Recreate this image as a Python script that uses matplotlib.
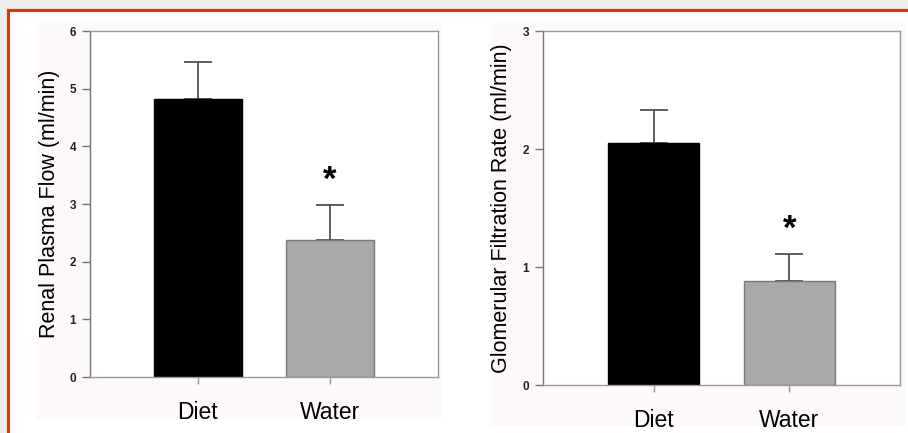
import matplotlib.pyplot as plt
from matplotlib.patches import Rectangle
from matplotlib.lines import Line2D

plt.rcParams['font.family'] = ['Liberation Sans', 'DejaVu Sans']

# data
groups = ['Diet', 'Water']
rpf_mean = [4.82, 2.37]
rpf_err = [0.65, 0.61]
gfr_mean = [2.05, 0.88]
gfr_err = [0.28, 0.23]
significant = [False, True]

bar_colors = ['#000000', '#a9a9a9']
edge_colors = ['#000000', '#7a7a7a']

fig = plt.figure(figsize=(9.08, 4.33), dpi=100)
fig.patch.set_facecolor('white')

# pale background of the scanned panels + orange frame
fig.patches.append(Rectangle((37 / 908, 1 - 418 / 433), 403 / 908, 395 / 433,
                             transform=fig.transFigure, color='#fcf8fc', zorder=-5))
fig.patches.append(Rectangle((492 / 908, 1 - 425 / 433), 412 / 908, 402 / 433,
                             transform=fig.transFigure, color='#fcf8fc', zorder=-5))
fig.patches.append(Rectangle((0, 1 - 9 / 433), 1, 9 / 433,
                             transform=fig.transFigure, color='#eeeeee', zorder=-6))
fig.patches.append(Rectangle((0, 0), 6 / 908, 1,
                             transform=fig.transFigure, color='#eeeeee', zorder=-6))
fig.lines.append(Line2D([7.5 / 908, 1], [1 - 10 / 433, 1 - 10 / 433],
                        transform=fig.transFigure, color='#d43a0c', lw=2.2))
fig.lines.append(Line2D([7.5 / 908, 7.5 / 908], [0, 1 - 10 / 433],
                        transform=fig.transFigure, color='#d43a0c', lw=2.2))


def panel(rect, means, errs, ymax, ylabel):
    ax = fig.add_axes(rect)
    ax.set_facecolor('white')
    x = range(len(groups))
    ax.bar(x, means, width=0.665, color=bar_colors, edgecolor=edge_colors, lw=1, zorder=2)
    ax.errorbar(x, means, yerr=[[0] * len(errs), errs], fmt='none', ecolor='#444444',
                elinewidth=1.2, capsize=10, capthick=1.2, zorder=1)
    for i, sig in enumerate(significant):
        if sig:
            ax.annotate('*', (i, means[i] + errs[i]), xytext=(0, 18), textcoords='offset points',
                        ha='center', va='center', fontsize=25, fontweight='bold')
    ax.set_xlim(-0.815, 1.815)
    ax.set_ylim(0, ymax)
    ax.set_yticks(range(ymax + 1))
    ax.set_xticks(list(x))
    ax.set_xticklabels(groups, fontsize=16.5)
    for s in ax.spines.values():
        s.set_color('#9a9a9a')
        s.set_linewidth(1)
    ax.spines['left'].set_color('#777777')
    ax.tick_params(axis='y', direction='out', length=6, width=1, color='#777777',
                   labelsize=8.5, pad=4, labelcolor='#222222')
    ax.tick_params(axis='x', direction='out', length=5, width=1, color='#999999', pad=12)
    for t in ax.get_yticklabels():
        t.set_fontweight('bold')
    ax.set_ylabel(ylabel, fontsize=15.5)
    ax.yaxis.set_label_coords(-0.087, 0.5)
    return ax


panel([90 / 908, 1 - 377 / 433, 348 / 908, 346 / 433], rpf_mean, rpf_err, 6,
      'Renal Plasma Flow (ml/min)')
panel([543 / 908, 1 - 385 / 433, 357 / 908, 354 / 433], gfr_mean, gfr_err, 3,
      'Glomerular Filtration Rate (ml/min)')

fig.savefig('out.png', dpi=100)
